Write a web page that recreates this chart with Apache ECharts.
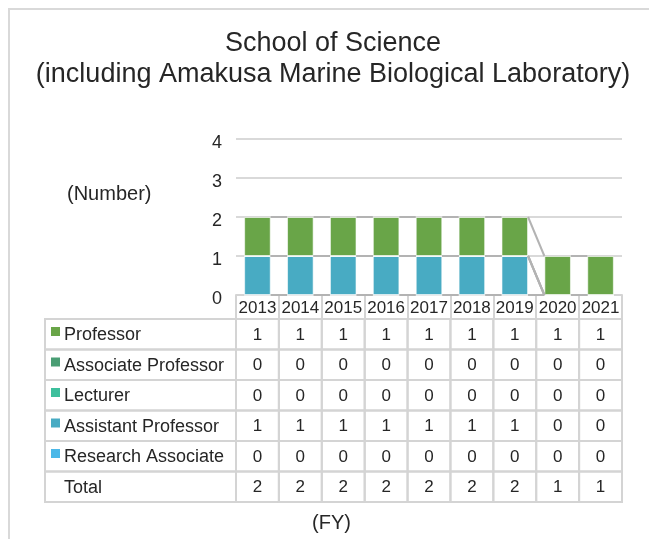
<!DOCTYPE html>
<html>
<head>
<meta charset="utf-8">
<script src="https://cdn.jsdelivr.net/npm/echarts@6/dist/echarts.min.js"></script>
<style>html,body{margin:0;padding:0;background:#fff;}#chart{width:649px;height:539px;}</style>
</head>
<body>
<div id="chart"></div>
<script>
// ---- data ----
const years = ['2013','2014','2015','2016','2017','2018','2019','2020','2021'];
const professor          = [1,1,1,1,1,1,1,1,1];
const associateProfessor = [0,0,0,0,0,0,0,0,0];
const lecturer           = [0,0,0,0,0,0,0,0,0];
const assistantProfessor = [1,1,1,1,1,1,1,0,0];
const researchAssociate  = [0,0,0,0,0,0,0,0,0];
const total              = [2,2,2,2,2,2,2,1,1];
const yTicks = [0,1,2,3,4];

// ---- styles ----
const colors = {
  'Professor': '#69a548',
  'Associate Professor': '#4a9e74',
  'Lecturer': '#3dbf9c',
  'Assistant Professor': '#48abc3',
  'Research Associate': '#4bb8e8'
};
const FONT = 'Liberation Sans, Arial, sans-serif';
const TXT = '#262626';
const LINE = '#d4d4d4';
const HEADER_H = 24;
const ROW_H = 30.5;
const LEFT_COL_W = 191;
const BAR_RATIO = 0.62;

// stack order: bottom -> top
const stack = [
  {name:'Research Associate', data: researchAssociate},
  {name:'Assistant Professor', data: assistantProfessor},
  {name:'Lecturer', data: lecturer},
  {name:'Associate Professor', data: associateProfessor},
  {name:'Professor', data: professor}
];
// table rows: top -> bottom
const tableRows = [
  {name:'Professor', data: professor, key:true},
  {name:'Associate Professor', data: associateProfessor, key:true},
  {name:'Lecturer', data: lecturer, key:true},
  {name:'Assistant Professor', data: assistantProfessor, key:true},
  {name:'Research Associate', data: researchAssociate, key:true},
  {name:'Total', data: total, key:false}
];

// series-line data: cumulative tops of each stacked series
const cum = years.map(() => 0);
const seriesLineData = [];
stack.forEach(s => {
  const tops = years.map((y, i) => (cum[i] += s.data[i]));
  for (let i = 0; i < years.length - 1; i++) seriesLineData.push([i, tops[i], tops[i+1]]);
});

const tableData = [];
tableRows.forEach((row, r) => years.forEach((y, c) => tableData.push([c, 0, r])));

const chart = echarts.init(document.getElementById('chart'), null, {renderer:'canvas'});

const barSeries = stack.map(s => ({
  name: s.name, type: 'bar', stack: 'total', data: s.data,
  barWidth: (BAR_RATIO*100) + '%',
  itemStyle: {color: colors[s.name], borderColor: 'rgba(255,255,255,0.6)', borderWidth: 1},
  z: 2
}));

const option = {
  animation: false,
  backgroundColor: '#fff',
  title: {
    text: 'School of Science\n(including Amakusa Marine Biological Laboratory)',
    left: 333, top: 28, padding: 0, textAlign: 'center',
    textStyle: {fontFamily: FONT, fontSize: 27, fontWeight: 'normal', color: TXT, lineHeight: 31}
  },
  grid: {left: 236, right: 27, top: 139, bottom: 244},
  xAxis: {
    type: 'category', data: years,
    axisLine: {lineStyle: {color: LINE, width: 2}},
    axisTick: {show: true, interval: 0, length: HEADER_H, lineStyle: {color: LINE, width: 2}},
    axisLabel: {interval: 0, margin: 5, fontFamily: FONT, fontSize: 17, color: TXT}
  },
  yAxis: {
    type: 'value', min: yTicks[0], max: yTicks[yTicks.length-1], interval: 1,
    axisLine: {show: false}, axisTick: {show: false},
    axisLabel: {
      margin: 14, formatter: '{a|{value}}',
      rich: {a: {fontFamily: FONT, fontSize: 18, color: TXT, padding: [8, 0, 0, 0]}}
    },
    splitLine: {lineStyle: {color: '#d9d9d9', width: 2}}
  },
  graphic: [
    {type: 'polyline', shape: {points: [[9,539],[9,9],[649,9]]}, style: {stroke: '#d9d9d9', lineWidth: 2, fill: null}},
    {type: 'text', left: 67, top: 184, style: {text: '(Number)', font: '20px ' + FONT, fill: TXT}},
    {type: 'text', left: 312, top: 513, style: {text: '(FY)', font: '20px ' + FONT, fill: TXT}}
  ],
  series: barSeries.concat([
    {
      type: 'custom', name: 'seriesLines', data: seriesLineData, z: 3, silent: true,
      encode: {x: 0, y: 1},
      renderItem: function (params, api) {
        const i = api.value(0), v1 = api.value(1), v2 = api.value(2);
        const p1 = api.coord([i, v1]);
        const p2 = api.coord([i + 1, v2]);
        const half = api.size([1, 0])[0] * BAR_RATIO / 2;
        return {type: 'line', shape: {x1: p1[0] + half, y1: p1[1], x2: p2[0] - half, y2: p2[1]},
                style: {stroke: '#b3b3b3', lineWidth: 2}};
      }
    },
    {
      type: 'custom', name: 'table', data: tableData, z: 4, silent: true, clip: false,
      encode: {x: 0, y: 1},
      renderItem: function (params, api) {
        const c = api.value(0), r = api.value(2);
        const row = tableRows[r];
        const p = api.coord([c, 0]);
        const cw = api.size([1, 0])[0];
        const x0 = p[0] - cw / 2;
        const yTop = p[1] + HEADER_H + r * ROW_H;
        const children = [
          {type: 'rect', shape: {x: x0, y: yTop, width: cw, height: ROW_H},
           style: {fill: null, stroke: LINE, lineWidth: 2}},
          {type: 'text', style: {text: String(row.data[c]), x: p[0], y: yTop + ROW_H / 2 + 1,
           align: 'center', verticalAlign: 'middle', font: '17px ' + FONT, fill: TXT}}
        ];
        if (c === 0) {
          const lx = x0 - LEFT_COL_W;
          children.push({type: 'rect', shape: {x: lx, y: yTop, width: LEFT_COL_W, height: ROW_H},
            style: {fill: null, stroke: LINE, lineWidth: 2}});
          if (row.key) children.push({type: 'rect', shape: {x: lx + 6, y: yTop + 8, width: 9, height: 9},
            style: {fill: colors[row.name]}});
          children.push({type: 'text', style: {text: row.name, x: lx + 19, y: yTop + ROW_H / 2 + 1,
            align: 'left', verticalAlign: 'middle', font: '18px ' + FONT, fill: TXT}});
        }
        return {type: 'group', children: children};
      }
    }
  ])
};
chart.setOption(option);
</script>
</body>
</html>
